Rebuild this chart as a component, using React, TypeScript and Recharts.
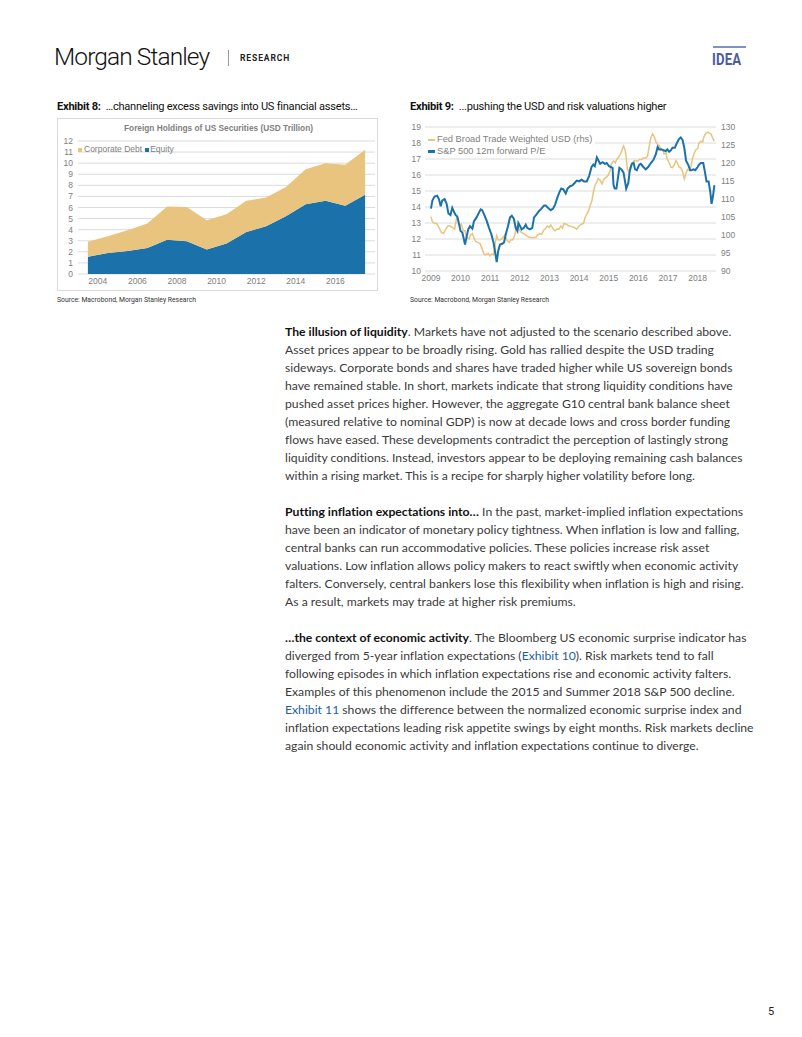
import React from "react";
import { Area, AreaChart, CartesianGrid, Line, LineChart, XAxis, YAxis } from "recharts";

// Exhibit 8: foreign holdings of US securities, USD trn (annual survey, mid-year)
const surveyDates = [2003.5, 2004.5, 2005.5, 2006.5, 2007.5, 2008.5, 2009.5, 2010.5, 2011.5, 2012.5, 2013.5, 2014.5, 2015.5, 2016.5, 2017.5];
const equity = [1.55, 1.9, 2.08, 2.35, 3.1, 2.95, 2.2, 2.75, 3.8, 4.3, 5.2, 6.3, 6.6, 6.15, 7.15];
const corporateDebt = [1.35, 1.5, 1.87, 2.2, 3.0, 3.1, 2.65, 2.65, 2.8, 2.6, 2.65, 3.15, 3.4, 3.7, 4.05];
const holdingsYearTicks = [2004, 2006, 2008, 2010, 2012, 2014, 2016];
const holdingsValueTicks = [0, 1, 2, 3, 4, 5, 6, 7, 8, 9, 10, 11, 12];

// Exhibit 9: S&P 500 12m forward P/E (lhs)
const peDates = [
  2009.0, 2009.05, 2009.12, 2009.21, 2009.27, 2009.33, 2009.38, 2009.46, 2009.53, 2009.59, 2009.66, 2009.72, 2009.78, 2009.83, 2009.89, 2009.95,
  2010.0, 2010.06, 2010.11, 2010.15, 2010.2, 2010.26, 2010.32, 2010.4, 2010.45, 2010.54, 2010.62, 2010.68, 2010.73, 2010.79, 2010.88, 2010.96,
  2011.04, 2011.11, 2011.16, 2011.22, 2011.27, 2011.33, 2011.41, 2011.47, 2011.52, 2011.6, 2011.67, 2011.73, 2011.8, 2011.86, 2011.92, 2011.95,
  2012.01, 2012.06, 2012.14, 2012.2, 2012.25, 2012.34, 2012.42, 2012.48, 2012.57, 2012.65, 2012.73, 2012.82, 2012.87, 2012.95,
  2013.04, 2013.12, 2013.19, 2013.27, 2013.34, 2013.4, 2013.47, 2013.55, 2013.61, 2013.7, 2013.77, 2013.85, 2013.92,
  2014.0, 2014.08, 2014.17, 2014.26, 2014.34, 2014.42, 2014.48, 2014.53, 2014.6, 2014.64, 2014.71, 2014.79, 2014.87, 2014.93,
  2015.01, 2015.07, 2015.13, 2015.16, 2015.2, 2015.26, 2015.32, 2015.36, 2015.43, 2015.5, 2015.55, 2015.59, 2015.66, 2015.71, 2015.78, 2015.84, 2015.89, 2015.95,
  2016.03, 2016.08, 2016.17, 2016.25, 2016.33, 2016.42, 2016.51, 2016.59, 2016.65, 2016.7, 2016.78, 2016.85, 2016.93, 2016.98,
  2017.04, 2017.1, 2017.15, 2017.23, 2017.3, 2017.37, 2017.43, 2017.49, 2017.55, 2017.61, 2017.68, 2017.75, 2017.8, 2017.86, 2017.92,
  2018.0, 2018.05, 2018.11, 2018.19, 2018.25, 2018.3, 2018.37, 2018.43, 2018.47, 2018.52, 2018.56, 2018.58,
];
const peValues = [
  13.9, 14.4, 14.65, 14.7, 14.5, 14.05, 14.4, 14.5, 14.2, 13.6, 13.5, 13.95, 13.7, 13.5, 13.4, 12.9,
  12.5, 12.4, 12.0, 11.65, 12.1, 12.6, 12.8, 12.65, 13.1, 13.35, 13.65, 13.85, 13.8, 13.55, 13.15, 12.7,
  12.3, 11.8, 11.25, 10.55, 11.25, 11.65, 11.7, 11.8, 12.25, 12.8, 13.35, 13.45, 13.25, 12.7, 12.5, 13.0,
  12.8, 12.6, 12.7, 12.9, 12.7, 12.6, 12.7, 13.35, 13.55, 13.75, 13.9, 14.1, 14.1, 13.95,
  13.8, 13.9, 14.15, 14.6, 14.95, 15.15, 15.1, 14.85, 15.15, 15.3, 15.35, 15.5, 15.65,
  15.6, 15.7, 15.6, 15.6, 15.95, 16.5, 16.65, 16.55, 17.1, 16.95, 16.7, 16.8, 16.7, 16.75,
  16.55, 16.5, 16.45, 15.4, 15.15, 15.15, 15.95, 16.45, 16.35, 16.15, 15.6, 15.15, 15.5, 16.25, 16.7, 16.75, 16.35, 16.3,
  16.65, 16.7, 16.5, 16.35, 16.5, 16.75, 16.95, 17.3, 17.75, 17.6, 17.6, 17.55, 17.5, 17.6,
  17.45, 17.55, 17.7, 17.7, 18.0, 18.25, 18.35, 18.2, 17.7, 16.9, 16.65, 16.3, 16.3, 16.35, 16.3,
  16.5, 16.65, 16.75, 16.75, 16.15, 15.6, 15.6, 14.9, 14.2, 14.7, 15.3, 15.35,
];

// Exhibit 9: Fed broad trade weighted USD (rhs)
const usdDates = [
  2009.0, 2009.05, 2009.12, 2009.19, 2009.27, 2009.35, 2009.42, 2009.5, 2009.57, 2009.64, 2009.72, 2009.8, 2009.87, 2009.92, 2009.98,
  2010.02, 2010.09, 2010.15, 2010.2, 2010.28, 2010.34, 2010.4, 2010.45, 2010.51, 2010.59, 2010.66, 2010.73, 2010.79, 2010.85, 2010.93, 2010.99,
  2011.05, 2011.11, 2011.15, 2011.18, 2011.22, 2011.27, 2011.33, 2011.39, 2011.43, 2011.49, 2011.56, 2011.64, 2011.69, 2011.76, 2011.83, 2011.88, 2011.94,
  2012.0, 2012.05, 2012.12, 2012.2, 2012.28, 2012.37, 2012.46, 2012.54, 2012.59, 2012.68, 2012.74, 2012.8, 2012.87, 2012.93, 2012.99,
  2013.04, 2013.13, 2013.19, 2013.25, 2013.32, 2013.38, 2013.44, 2013.49, 2013.57, 2013.66, 2013.74, 2013.83, 2013.92,
  2014.0, 2014.08, 2014.15, 2014.2, 2014.26, 2014.32, 2014.37, 2014.43, 2014.48, 2014.53, 2014.6, 2014.64, 2014.71, 2014.77, 2014.82, 2014.88, 2014.93, 2014.99,
  2015.05, 2015.09, 2015.16, 2015.22, 2015.27, 2015.33, 2015.39, 2015.44, 2015.5, 2015.55, 2015.59, 2015.63, 2015.68, 2015.72, 2015.78, 2015.84, 2015.89, 2015.97,
  2016.04, 2016.11, 2016.17, 2016.25, 2016.31, 2016.36, 2016.42, 2016.48, 2016.53, 2016.59, 2016.65, 2016.7, 2016.76, 2016.82, 2016.87, 2016.93, 2016.98,
  2017.04, 2017.1, 2017.15, 2017.21, 2017.27, 2017.32, 2017.38, 2017.43, 2017.49, 2017.55, 2017.6, 2017.66, 2017.72, 2017.77, 2017.83, 2017.89, 2017.94,
  2018.0, 2018.05, 2018.11, 2018.17, 2018.22, 2018.28, 2018.34, 2018.39, 2018.45, 2018.5, 2018.56,
];
const usdValues = [
  105.1, 103.7, 103.2, 103.2, 102.1, 100.7, 100.4, 101.6, 102.5, 102.5, 102.1, 101.6, 105.0, 104.4, 102.5,
  103.0, 101.2, 101.2, 99.3, 98.9, 100.0, 100.4, 99.3, 98.2, 97.9, 97.6, 96.1, 94.7, 94.5, 94.9, 94.2,
  94.7, 94.5, 96.1, 98.2, 99.8, 98.6, 98.6, 98.9, 99.3, 100.0, 98.6, 97.9, 98.6, 98.6, 100.0, 102.1, 102.4,
  101.3, 100.7, 100.4, 100.0, 99.5, 99.3, 99.3, 99.3, 100.0, 100.4, 100.2, 101.3, 101.9, 102.5, 102.1,
  102.8, 101.6, 101.2, 101.6, 101.6, 102.5, 101.9, 103.2, 103.0, 102.5, 102.4, 102.1, 101.6,
  102.5, 103.0, 103.2, 104.8, 105.8, 106.7, 108.1, 109.4, 111.8, 113.6, 114.8, 115.7, 115.2, 114.2, 115.2, 115.9, 116.1, 116.8,
  117.9, 119.8, 120.5, 120.0, 121.0, 121.6, 122.4, 123.5, 124.7, 123.7, 121.6, 118.2, 117.6, 118.8, 119.8, 120.5, 120.7, 120.5,
  121.0, 121.0, 121.4, 121.4, 121.9, 124.4, 127.0, 128.1, 127.4, 126.0, 125.1, 124.9, 124.0, 123.7, 122.5, 122.8, 121.0,
  120.0, 118.8, 118.7, 119.4, 120.7, 120.0, 118.8, 118.7, 117.7, 115.6, 117.0, 118.2, 117.9, 118.8, 121.4, 122.8, 123.7,
  124.0, 125.6, 126.0, 125.9, 127.4, 128.3, 128.6, 128.3, 128.1, 127.1, 126.0,
];
const valuationYearTicks = [2009, 2010, 2011, 2012, 2013, 2014, 2015, 2016, 2017, 2018];
const peTicks = [10, 11, 12, 13, 14, 15, 16, 17, 18, 19];
const usdTicks = [90, 95, 100, 105, 110, 115, 120, 125, 130];

const holdingsData = surveyDates.map((date, i) => ({ date, equity: equity[i], debt: corporateDebt[i] }));

// merge the two series on one numeric date axis
const valuationMap = new Map<number, { date: number; pe?: number; usd?: number }>();
peDates.forEach((d, i) => valuationMap.set(d, { ...(valuationMap.get(d) || { date: d }), pe: peValues[i] }));
usdDates.forEach((d, i) => valuationMap.set(d, { ...(valuationMap.get(d) || { date: d }), usd: usdValues[i] }));
const valuationData = Array.from(valuationMap.values()).sort((a, b) => a.date - b.date);

const BLUE = "#1b72ab";
const GOLD = "#e8c47e";
const GRID = "#dcdcdc";
const tickStyle = { fontFamily: "Liberation Sans, Arial, sans-serif", fontSize: 8.5, fill: "#808080" };
const bodyFont = "Lato, sans-serif";

const abs = (left: number, top: number, extra: React.CSSProperties = {}): React.CSSProperties => ({
  position: "absolute",
  left,
  top,
  whiteSpace: "nowrap",
  ...extra,
});

function HoldingsChart() {
  return (
    <div style={abs(57, 118, { width: 321, height: 173, border: "1px solid #d9d9d9", boxSizing: "border-box" })}>
      <div
        style={abs(0, 4, {
          width: 321,
          textAlign: "center",
          fontFamily: "Liberation Sans, Arial, sans-serif",
          fontWeight: "bold",
          fontSize: 8.3,
          color: "#7f7f7f",
        })}
      >
        Foreign Holdings of US Securities (USD Trillion)
      </div>
      <AreaChart width={319} height={171} data={holdingsData} margin={{ top: 22, right: 2, bottom: 0, left: 0 }}>
        <CartesianGrid vertical={false} stroke={GRID} />
        <XAxis
          dataKey="date"
          type="number"
          domain={[2003, 2018]}
          ticks={holdingsYearTicks}
          axisLine={false}
          tickLine={false}
          tickSize={0}
          tickMargin={4}
          height={16}
          tick={tickStyle}
        />
        <YAxis
          domain={[0, 12]}
          ticks={holdingsValueTicks}
          axisLine={false}
          tickLine={false}
          tickSize={0}
          tickMargin={5}
          width={20}
          interval={0}
          tick={tickStyle}
        />
        <Area type="linear" dataKey="equity" stackId="h" stroke="none" fill={BLUE} fillOpacity={1} isAnimationActive={false} />
        <Area type="linear" dataKey="debt" stackId="h" stroke="none" fill={GOLD} fillOpacity={1} isAnimationActive={false} />
      </AreaChart>
      <div style={abs(20, 25, { fontFamily: "Liberation Sans, Arial, sans-serif", fontSize: 8.5, color: "#7f7f7f", lineHeight: "10px" })}>
        <span style={{ display: "inline-block", width: 4, height: 4, background: GOLD, marginRight: 2, verticalAlign: "middle" }} />
        Corporate Debt
        <span style={{ display: "inline-block", width: 4, height: 4, background: BLUE, margin: "0 1px 0 3px", verticalAlign: "middle" }} />
        Equity
      </div>
    </div>
  );
}

function ValuationChart() {
  return (
    <div style={abs(405, 118, { width: 340, height: 170 })}>
      <LineChart width={340} height={170} data={valuationData} margin={{ top: 9, right: 0, bottom: 0, left: 0 }}>
        <CartesianGrid vertical={false} stroke={GRID} yAxisId="pe" />
        <XAxis
          dataKey="date"
          type="number"
          domain={[2008.8, 2018.62]}
          ticks={valuationYearTicks}
          allowDataOverflow
          axisLine={false}
          tickLine={false}
          tickSize={0}
          tickMargin={4}
          height={17}
          tick={tickStyle}
        />
        <YAxis
          yAxisId="pe"
          domain={[10, 19]}
          ticks={peTicks}
          axisLine={false}
          tickLine={false}
          tickSize={0}
          tickMargin={4}
          width={20}
          interval={0}
          tick={tickStyle}
        />
        <YAxis
          yAxisId="usd"
          orientation="right"
          domain={[90, 130]}
          ticks={usdTicks}
          axisLine={false}
          tickLine={false}
          tickSize={0}
          tickMargin={5}
          width={29}
          interval={0}
          tick={tickStyle}
        />
        <Line yAxisId="usd" type="linear" dataKey="usd" stroke={GOLD} strokeWidth={1.5} dot={false} connectNulls isAnimationActive={false} />
        <Line yAxisId="pe" type="linear" dataKey="pe" stroke={BLUE} strokeWidth={2} dot={false} connectNulls isAnimationActive={false} />
      </LineChart>
      <div
        style={abs(21, 14, {
          background: "#fff",
          padding: "1px 3px 1px 2px",
          fontFamily: "Liberation Sans, Arial, sans-serif",
          fontSize: 9.3,
          color: "#7f7f7f",
          lineHeight: "12px",
        })}
      >
        <div>
          <span style={{ display: "inline-block", width: 7, height: 2, background: GOLD, marginRight: 2, verticalAlign: "middle" }} />
          Fed Broad Trade Weighted USD (rhs)
        </div>
        <div>
          <span style={{ display: "inline-block", width: 7, height: 2.5, background: BLUE, marginRight: 2, verticalAlign: "middle" }} />
          S&amp;P 500 12m forward P/E
        </div>
      </div>
    </div>
  );
}

const para1 = [
  "Asset prices appear to be broadly rising. Gold has rallied despite the USD trading",
  "sideways. Corporate bonds and shares have traded higher while US sovereign bonds",
  "have remained stable. In short, markets indicate that strong liquidity conditions have",
  "pushed asset prices higher. However, the aggregate G10 central bank balance sheet",
  "(measured relative to nominal GDP) is now at decade lows and cross border funding",
  "flows have eased. These developments contradict the perception of lastingly strong",
  "liquidity conditions. Instead, investors appear to be deploying remaining cash balances",
  "within a rising market. This is a recipe for sharply higher volatility before long.",
];
const para2 = [
  "have been an indicator of monetary policy tightness. When inflation is low and falling,",
  "central banks can run accommodative policies. These policies increase risk asset",
  "valuations. Low inflation allows policy makers to react swiftly when economic activity",
  "falters. Conversely, central bankers lose this flexibility when inflation is high and rising.",
  "As a result, markets may trade at higher risk premiums.",
];

const LINK = "#1f5f9e";

function BodyLine({ top, children }: { top: number; children: React.ReactNode }) {
  return (
    <div
      style={abs(285, top, {
        fontFamily: bodyFont,
        fontSize: 12.2,
        lineHeight: "18px",
        color: "#3a3a3a",
        fontVariantLigatures: "none",
      })}
    >
      {children}
    </div>
  );
}

export default function App() {
  const b = { fontWeight: 700, color: "#111" } as React.CSSProperties;
  const exhibitTitle = { fontFamily: "Roboto, sans-serif", fontSize: 11.1, color: "#111", letterSpacing: -0.25 };
  return (
    <div style={{ position: "absolute", left: 0, top: 0, width: 802, height: 1037, background: "#fff", overflow: "hidden" }}>
      {/* header */}
      <div style={abs(54, 42, { fontFamily: "Roboto, sans-serif", fontWeight: 300, fontSize: 24.5, letterSpacing: -0.9, color: "#111" })}>
        Morgan Stanley
      </div>
      <div style={abs(228, 50, { width: 1, height: 16, background: "#999" })} />
      <div style={abs(240, 53, { fontFamily: "Roboto, sans-serif", fontWeight: 700, fontSize: 8.5, letterSpacing: 0.9, color: "#222" })}>
        RESEARCH
      </div>
      <div style={abs(713, 46, { width: 33, height: 2, background: "#8390c4" })} />
      <div
        style={abs(712, 50, {
          fontFamily: "Roboto, sans-serif",
          fontWeight: 700,
          fontSize: 16,
          letterSpacing: 0.2,
          color: "#4d5c9e",
          transform: "scaleX(0.82)",
          transformOrigin: "left",
        })}
      >
        IDEA
      </div>

      {/* exhibit titles */}
      <div style={abs(57, 100, exhibitTitle)}>
        <b>Exhibit 8:</b>&nbsp; …channeling excess savings into US financial assets…
      </div>
      <div style={abs(410, 100, exhibitTitle)}>
        <b>Exhibit 9:</b>&nbsp; ...pushing the USD and risk valuations higher
      </div>

      <HoldingsChart />
      <ValuationChart />

      <div style={abs(57, 296, { fontFamily: "Roboto, sans-serif", fontSize: 6.8, color: "#333" })}>
        Source: Macrobond, Morgan Stanley Research
      </div>
      <div style={abs(410, 296, { fontFamily: "Roboto, sans-serif", fontSize: 6.8, color: "#333" })}>
        Source: Macrobond, Morgan Stanley Research
      </div>

      {/* body text */}
      <BodyLine top={323}>
        <span style={b}>The illusion of liquidity</span>. Markets have not adjusted to the scenario described above.
      </BodyLine>
      {para1.map((t, i) => (
        <BodyLine key={`p1-${i}`} top={341 + i * 18}>
          {t}
        </BodyLine>
      ))}

      <BodyLine top={503}>
        <span style={b}>Putting inflation expectations into…</span> In the past, market-implied inflation expectations
      </BodyLine>
      {para2.map((t, i) => (
        <BodyLine key={`p2-${i}`} top={521 + i * 18}>
          {t}
        </BodyLine>
      ))}

      <BodyLine top={629}>
        <span style={b}>…the context of economic activity</span>. The Bloomberg US economic surprise indicator has
      </BodyLine>
      <BodyLine top={647}>
        diverged from 5-year inflation expectations (<span style={{ color: LINK }}>Exhibit 10</span>). Risk markets tend to fall
      </BodyLine>
      <BodyLine top={665}>following episodes in which inflation expectations rise and economic activity falters.</BodyLine>
      <BodyLine top={683}>Examples of this phenomenon include the 2015 and Summer 2018 S&amp;P 500 decline.</BodyLine>
      <BodyLine top={701}>
        <span style={{ color: LINK }}>Exhibit 11</span> shows the difference between the normalized economic surprise index and
      </BodyLine>
      <BodyLine top={719}>inflation expectations leading risk appetite swings by eight months. Risk markets decline</BodyLine>
      <BodyLine top={737}>again should economic activity and inflation expectations continue to diverge.</BodyLine>

      <div style={abs(768, 1005, { fontFamily: "Roboto, sans-serif", fontSize: 11, color: "#222" })}>5</div>
    </div>
  );
}
